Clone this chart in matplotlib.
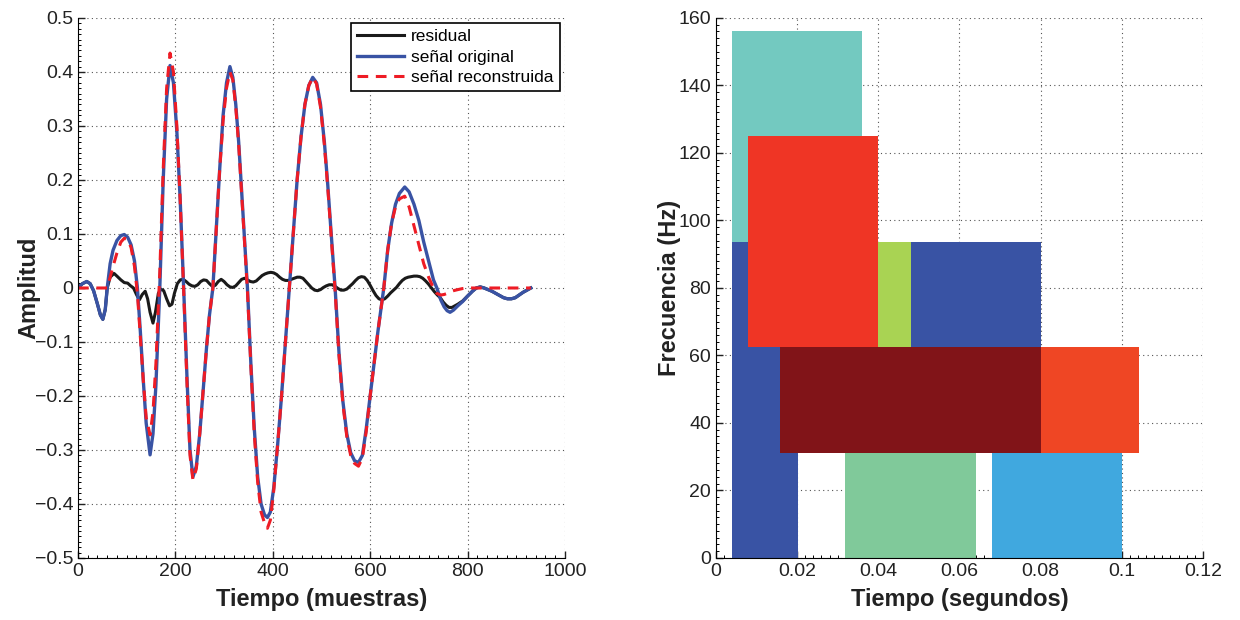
import numpy as np
import matplotlib
matplotlib.use('Agg')
import matplotlib.pyplot as plt
from matplotlib.ticker import AutoMinorLocator, FuncFormatter

plt.rcParams['font.family'] = ['Liberation Sans', 'DejaVu Sans']

# --- left panel: signals (samples, amplitude) ---
t_senal = [0, 9, 18, 25, 32, 40, 46, 51, 56, 60, 66, 72, 80, 88, 95, 102, 109, 116, 122,
           128, 134, 140, 148, 154, 160, 168, 175, 182, 189, 196, 203, 210, 217, 224, 230,
           236, 243, 250, 257, 264, 270, 277, 284, 291, 298, 305, 312, 318, 324, 330, 336,
           342, 348, 355, 362, 369, 376, 383, 389, 395, 402, 410, 418, 426, 434, 442, 450,
           458, 466, 474, 482, 490, 498, 506, 513, 520, 528, 536, 544, 552, 560, 568, 576,
           584, 592, 600, 608, 616, 622, 628, 636, 644, 652, 660, 671, 680, 690, 700, 710,
           720, 730, 737, 745, 752, 758, 764, 771, 780, 790, 800, 810, 818, 826, 834, 842,
           850, 858, 866, 874, 882, 890, 898, 906, 914, 922, 930]

original = [0, 0.008, 0.012, 0.008, -0.005, -0.03, -0.05, -0.058, -0.04, 0.0, 0.045, 0.07,
            0.088, 0.097, 0.099, 0.094, 0.08, 0.05, 0.0, -0.08, -0.17, -0.25, -0.309, -0.27,
            -0.18, 0.0, 0.2, 0.35, 0.412, 0.38, 0.29, 0.16, 0.0, -0.17, -0.3, -0.35, -0.33,
            -0.27, -0.19, -0.11, -0.05, 0.0, 0.11, 0.22, 0.32, 0.38, 0.41, 0.39, 0.34, 0.27,
            0.18, 0.09, 0.0, -0.14, -0.26, -0.35, -0.4, -0.42, -0.425, -0.415, -0.37, -0.29,
            -0.2, -0.1, 0.0, 0.1, 0.2, 0.28, 0.34, 0.375, 0.39, 0.38, 0.34, 0.27, 0.19, 0.1,
            0.0, -0.12, -0.21, -0.27, -0.305, -0.32, -0.323, -0.31, -0.26, -0.2, -0.14, -0.08,
            -0.04, 0.0, 0.07, 0.12, 0.155, 0.175, 0.187, 0.178, 0.155, 0.125, 0.085, 0.05,
            0.015, 0.0, -0.022, -0.035, -0.042, -0.045, -0.041, -0.033, -0.025, -0.015, -0.006,
            0.0, 0.002, 0.0, -0.003, -0.006, -0.01, -0.014, -0.018, -0.02, -0.02, -0.018,
            -0.013, -0.008, -0.004, 0.0]

reconstruida = [0, 0, 0, 0, 0, 0, 0, 0, 0, 0, 0.02, 0.04, 0.065, 0.085, 0.092, 0.09, 0.075,
                0.04, -0.01, -0.09, -0.17, -0.24, -0.272, -0.23, -0.14, 0.03, 0.22, 0.37,
                0.435, 0.4, 0.3, 0.16, -0.005, -0.18, -0.31, -0.355, -0.335, -0.27, -0.19,
                -0.11, -0.05, 0.0, 0.11, 0.22, 0.31, 0.37, 0.40, 0.385, 0.335, 0.265, 0.175,
                0.085, -0.005, -0.145, -0.27, -0.36, -0.415, -0.435, -0.445, -0.43, -0.375,
                -0.29, -0.2, -0.1, 0.0, 0.1, 0.2, 0.28, 0.34, 0.375, 0.39, 0.378, 0.335, 0.265,
                0.185, 0.095, -0.005, -0.125, -0.215, -0.275, -0.31, -0.325, -0.33, -0.315,
                -0.265, -0.2, -0.14, -0.08, -0.04, 0.0, 0.07, 0.12, 0.15, 0.165, 0.17, 0.15,
                0.115, 0.08, 0.045, 0.02, 0.0, -0.01, -0.013, -0.012, -0.01, -0.007, -0.005,
                -0.003, -0.001, 0, 0, 0, 0, 0, 0, 0, 0, 0, 0, 0, 0, 0, 0, 0, 0, 0]

t_residual = [0, 9, 18, 25, 32, 40, 46, 51, 56, 60, 66, 74, 80, 88, 95, 102, 108, 114, 120,
              126, 132, 138, 143, 148, 154, 159, 165, 170, 176, 182, 188, 193, 198, 204, 210,
              216, 222, 228, 234, 240, 246, 252, 258, 264, 270, 276, 282, 288, 294, 300, 306,
              312, 318, 324, 330, 336, 342, 348, 354, 360, 366, 372, 378, 384, 390, 396, 402,
              408, 414, 420, 426, 432, 438, 444, 450, 456, 462, 468, 474, 480, 486, 492, 498,
              504, 510, 516, 522, 528, 534, 540, 546, 552, 558, 564, 570, 576, 582, 588, 594,
              600, 606, 612, 618, 624, 630, 636, 642, 648, 654, 660, 666, 672, 678, 684, 690,
              696, 702, 708, 714, 720, 726, 732, 738, 744, 750, 756, 762, 768, 774, 780, 790,
              800, 810, 818, 826, 834, 842, 850, 858, 866, 874, 882, 890, 898, 906, 914, 922, 930]

residual = [0, 0.008, 0.012, 0.008, -0.005, -0.03, -0.05, -0.058, -0.04, 0.0, 0.02, 0.027,
            0.022, 0.015, 0.01, 0.009, 0.004, 0.0, -0.012, -0.022, -0.012, -0.006, -0.02,
            -0.045, -0.065, -0.045, -0.01, -0.002, -0.005, -0.02, -0.033, -0.03, -0.01, 0.008,
            0.015, 0.016, 0.012, 0.007, 0.004, 0.003, 0.006, 0.012, 0.015, 0.014, 0.008, 0.003,
            0.005, 0.012, 0.016, 0.012, 0.006, 0.002, 0.001, 0.004, 0.01, 0.016, 0.018, 0.015,
            0.012, 0.011, 0.013, 0.018, 0.023, 0.026, 0.028, 0.029, 0.028, 0.025, 0.02, 0.016,
            0.014, 0.014, 0.016, 0.018, 0.02, 0.02, 0.018, 0.012, 0.006, 0.0, -0.004, -0.005,
            -0.003, 0.001, 0.004, 0.006, 0.006, 0.003, -0.001, -0.004, -0.004, -0.002, 0.003,
            0.008, 0.014, 0.019, 0.021, 0.02, 0.014, 0.005, -0.005, -0.014, -0.02, -0.022,
            -0.02, -0.015, -0.009, -0.004, 0.001, 0.008, 0.014, 0.018, 0.02, 0.021, 0.022,
            0.022, 0.021, 0.018, 0.013, 0.007, 0.0, -0.007, -0.013, -0.018, -0.026, -0.032,
            -0.036, -0.036, -0.033, -0.03, -0.024, -0.015, -0.006, 0.0, 0.002, 0.0, -0.003,
            -0.006, -0.01, -0.014, -0.018, -0.02, -0.02, -0.018, -0.013, -0.008, -0.004, 0.0]

# --- right panel: time-frequency atoms (start, end in s; low, high in Hz) ---
atom_t0 = [0.00406, 0.00406, 0.0400, 0.0481, 0.0079, 0.0319, 0.0679, 0.01585, 0.0800]
atom_t1 = [0.0360, 0.0201, 0.0481, 0.0800, 0.0400, 0.0640, 0.1000, 0.0800, 0.1042]
atom_f0 = [93.75, 0.0, 62.5, 62.5, 62.5, 0.0, 0.0, 31.25, 31.25]
atom_f1 = [156.25, 93.75, 93.75, 93.75, 125.0, 31.25, 31.25, 62.5, 62.5]
atom_color = ['#73C9C0', '#3953A4', '#A9D353', '#3953A4', '#EF3525',
              '#80C99A', '#40A8DF', '#811418', '#EF4624']


def fmt(v, pos):
    v = round(v, 8)
    if v == 0:
        return '0'
    return f'{v:g}'.replace('-', '\u2212')


def matlab_axes(ax):
    ax.spines['top'].set_visible(False)
    ax.spines['right'].set_visible(False)
    ax.grid(True, linestyle=(0, (1, 3)), color='#555555', linewidth=0.8)
    ax.xaxis.set_minor_locator(AutoMinorLocator(10))
    ax.yaxis.set_minor_locator(AutoMinorLocator(10))
    ax.tick_params(which='major', direction='in', length=5, labelsize=14, width=1, colors='#222222')
    ax.tick_params(which='minor', direction='in', length=2.5, width=0.7)
    ax.xaxis.set_major_formatter(FuncFormatter(fmt))
    ax.yaxis.set_major_formatter(FuncFormatter(fmt))
    ax.set_axisbelow(True)


fig = plt.figure(figsize=(12.4, 6.2), dpi=100)
ax1 = fig.add_axes([0.0629, 0.1, 0.3927, 0.871])
ax2 = fig.add_axes([0.5774, 0.1, 0.3927, 0.871])

ax1.plot(t_residual, residual, color='#1a1a1a', lw=2.2, label='residual')
ax1.plot(t_senal, original, color='#3953A4', lw=2.4, label='señal original')
ax1.plot(t_senal, reconstruida, color='#EE1C25', lw=2.2, linestyle=(0, (3.5, 2.5)),
         label='señal reconstruida')
ax1.set_xlim(0, 1000)
ax1.set_ylim(-0.5, 0.5)
ax1.set_xticks(np.arange(0, 1001, 200))
ax1.set_yticks(np.arange(-0.5, 0.51, 0.1))
matlab_axes(ax1)
ax1.set_xlabel('Tiempo (muestras)', fontsize=17, fontweight='bold', labelpad=6, color='#222222')
ax1.set_ylabel('Amplitud', fontsize=17, fontweight='bold', labelpad=-4, color='#222222')
leg = ax1.legend(loc='upper right', fontsize=12.5, frameon=True, fancybox=False,
                 borderaxespad=0.3, handlelength=2.7, handletextpad=0.4,
                 labelspacing=0.3, borderpad=0.35)
leg.get_frame().set_edgecolor('black')
leg.get_frame().set_linewidth(1.2)
leg.get_frame().set_alpha(1)

for a, b, lo, hi, c in zip(atom_t0, atom_t1, atom_f0, atom_f1, atom_color):
    ax2.bar(a, hi - lo, width=b - a, bottom=lo, align='edge', color=c, edgecolor='none')
ax2.set_xlim(0, 0.12)
ax2.set_ylim(0, 160)
ax2.set_xticks(np.arange(0, 0.1201, 0.02))
ax2.set_yticks(np.arange(0, 161, 20))
matlab_axes(ax2)
ax2.set_xlabel('Tiempo (segundos)', fontsize=17, fontweight='bold', labelpad=6, color='#222222')
ax2.set_ylabel('Frecuencia (Hz)', fontsize=17, fontweight='bold', labelpad=-2, color='#222222')

fig.savefig('out.png', dpi=100)
